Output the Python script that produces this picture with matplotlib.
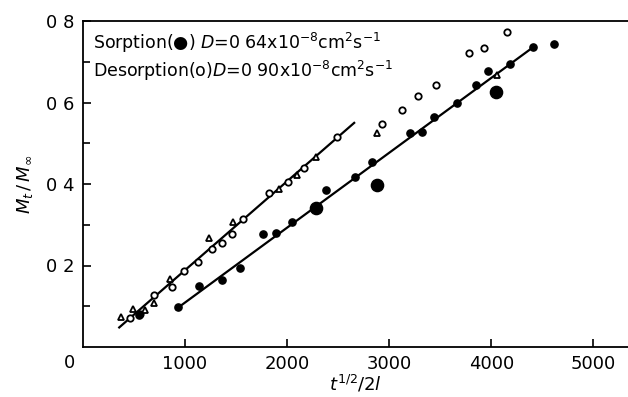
import numpy as np
import matplotlib.pyplot as plt

# Desorption, open circles
des_x = [461, 560, 696, 873, 990, 1127, 1265, 1363, 1461, 1569, 1824, 2010,
         2167, 2490, 2931, 3127, 3284, 3461, 3784, 3931, 4157]
des_y = [0.071, 0.082, 0.128, 0.147, 0.187, 0.209, 0.240, 0.255, 0.277, 0.314,
         0.378, 0.405, 0.439, 0.515, 0.547, 0.582, 0.616, 0.643, 0.721, 0.734, 0.773]

# Triangles
tri_x = [372, 490, 608, 696, 853, 1235, 1471, 1922, 2098, 2284, 2882, 4059]
tri_y = [0.074, 0.093, 0.090, 0.108, 0.167, 0.267, 0.307, 0.388, 0.422, 0.466,
         0.525, 0.668]

# Sorption, filled circles
sor_x = [549, 931, 1137, 1363, 1539, 1765, 1892, 2049, 2382, 2667, 2833, 3206,
         3324, 3441, 3667, 3853, 3971, 4186, 4412, 4618]
sor_y = [0.079, 0.098, 0.150, 0.164, 0.194, 0.277, 0.280, 0.307, 0.385, 0.417,
         0.454, 0.525, 0.528, 0.564, 0.599, 0.643, 0.677, 0.694, 0.736, 0.744]

# Large filled circles
big_x = [2284, 2882, 4049]
big_y = [0.341, 0.398, 0.626]

# Fitted lines (end points)
des_line_x = [355, 2657]
des_line_y = [0.048, 0.550]
sor_line_x = [912, 4412]
sor_line_y = [0.093, 0.736]

xticks = [1000, 2000, 3000, 4000, 5000]
yticks = [0.2, 0.4, 0.6, 0.8]
ytick_labels = ['0 2', '0 4', '0 6', '0 8']

plt.rcParams['font.family'] = ['DejaVu Sans']

fig = plt.figure(figsize=(6.28, 3.97), dpi=100)
ax = fig.add_axes([83 / 628, 50 / 397, 1 - 83 / 628, 326 / 397])

ax.plot(des_line_x, des_line_y, color='black', lw=1.6)
ax.plot(sor_line_x, sor_line_y, color='black', lw=1.6)

ax.plot(des_x, des_y, 'o', ms=4.6, mfc='white', mec='black', mew=1.3)
ax.plot(tri_x, tri_y, '^', ms=4.6, mfc='white', mec='black', mew=1.3)
ax.plot(sor_x, sor_y, 'o', ms=5.2, color='black')
ax.plot(big_x, big_y, 'o', ms=8.8, color='black')

ax.set_xlim(0, 5340)
ax.set_ylim(0, 0.8)

ax.spines['right'].set_visible(False)
for s in ['left', 'bottom', 'top']:
    ax.spines[s].set_linewidth(1.3)

ax.set_xticks(xticks)
ax.set_xticklabels([str(v) for v in xticks])
ax.set_yticks(yticks)
ax.set_yticklabels(ytick_labels)
ax.set_yticks([0.1, 0.3, 0.5, 0.7], minor=True)
ax.tick_params(axis='both', which='both', direction='in', width=1.2,
               labelsize=13, pad=6)
ax.tick_params(axis='both', which='major', length=6)
ax.tick_params(axis='y', which='minor', length=5)

# shared origin label
ax.text(-130, -0.018, '0', fontsize=13, ha='center', va='top')

ax.set_ylabel(r'$M_t\,/\,M_\infty$', fontsize=13, labelpad=8)
ax.set_xlabel(r'$t^{1/2}/2l$', fontsize=13, labelpad=0)

ax.text(95, 0.745, 'Sorption(\u25cf) $D$=0 64x10$^{-8}$cm$^2$s$^{-1}$',
        fontsize=12.5, va='center')
ax.text(95, 0.677, 'Desorption(o)$D$=0 90x10$^{-8}$cm$^2$s$^{-1}$',
        fontsize=12.5, va='center')

plt.savefig('out.png', dpi=100)
